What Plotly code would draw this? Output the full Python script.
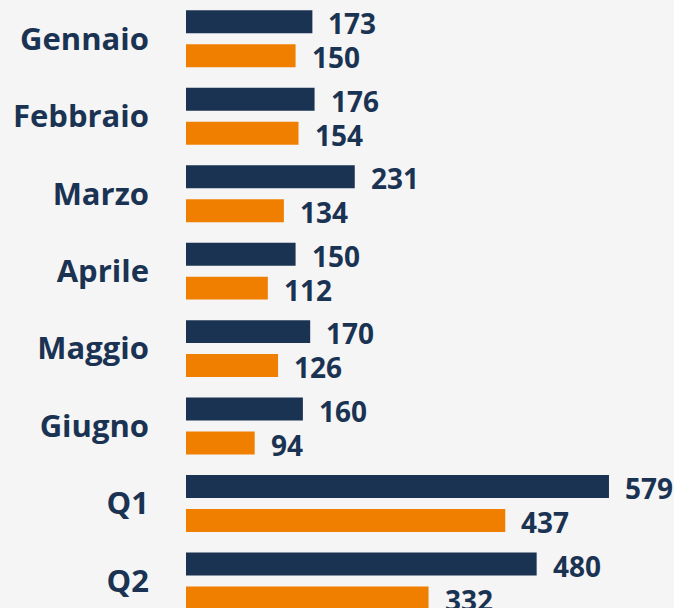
import plotly.graph_objects as go

categories = ["Gennaio", "Febbraio", "Marzo", "Aprile", "Maggio", "Giugno", "Q1", "Q2"]
series_a = [173, 176, 231, 150, 170, 160, 579, 480]
series_b = [150, 154, 134, 112, 126, 94, 437, 332]

NAVY = "#1b3353"
ORANGE = "#f07f00"
BG = "#f5f5f5"

fig = go.Figure()
fig.add_trace(go.Bar(y=categories, x=series_a, orientation="h", marker=dict(color=NAVY, line=dict(width=0)), name="A", hoverinfo="skip"))
fig.add_trace(go.Bar(y=categories, x=series_b, orientation="h", marker=dict(color=ORANGE, line=dict(width=0)), name="B", hoverinfo="skip"))

annotations = []
for series, shift in ((series_a, 15.5), (series_b, -18.5)):
    for c, v in zip(categories, series):
        annotations.append(dict(
            x=v, y=c, xref="x", yref="y", text=str(v), showarrow=False,
            xanchor="left", yanchor="middle", xshift=14, yshift=shift,
            font=dict(family="Open Sans", size=28, color=NAVY, weight="bold"),
        ))

fig.update_layout(
    width=674, height=608,
    margin=dict(l=186, r=0, t=0, b=0),
    paper_bgcolor=BG, plot_bgcolor=BG,
    barmode="group", bargap=0.123, bargroupgap=0.324,
    showlegend=False,
    annotations=annotations,
    xaxis=dict(range=[0, 668], visible=False, showgrid=False, zeroline=False),
    yaxis=dict(
        type="category", range=[7.348, -0.4996], showgrid=False, zeroline=False,
        showline=False, ticks="", ticklabelstandoff=36,
        tickfont=dict(family="Open Sans", size=31, color=NAVY, weight="bold"),
    ),
)

fig.write_html("out.html", config={"displayModeBar": False})

with open("out.html", "r", encoding="utf-8") as f:
    html = f.read()
html = html.replace("<head>", "<head><style>html,body{margin:0;padding:0;overflow:hidden;background:#f5f5f5;}</style>", 1)
with open("out.html", "w", encoding="utf-8") as f:
    f.write(html)
